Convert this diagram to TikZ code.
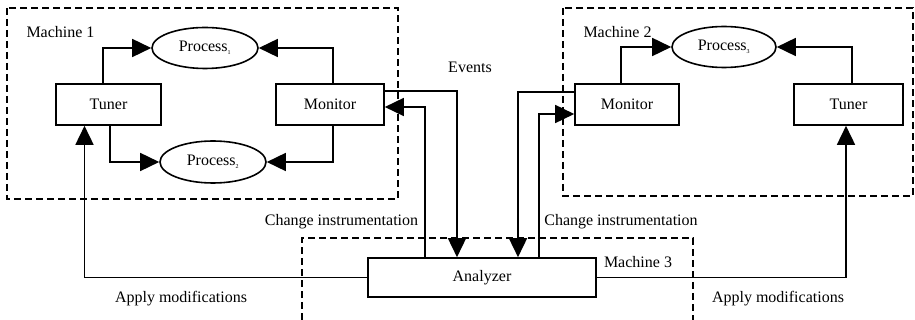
\documentclass[tikz,border=0pt]{standalone}
\usepackage{fontspec}
\setmainfont{Liberation Serif}
\usetikzlibrary{arrows.meta,shapes.geometric}
\newcommand{\subs}[1]{\textsubscript{\fontsize{6}{6}\selectfont #1}}
\begin{document}
\begin{tikzpicture}[x=1pt,y=-1pt,
  font=\fontsize{16}{19}\selectfont,
  box/.style={draw,line width=1.6pt,rectangle,inner sep=0pt,minimum height=41pt},
  proc/.style={draw,line width=1.6pt,ellipse,inner sep=0pt,minimum width=106pt,minimum height=41pt},
  mach/.style={draw,line width=1.6pt,dash pattern=on 7pt off 4pt},
  arr/.style={draw,line width=1.6pt,-{Triangle[length=19pt,width=18pt]}},
  lbl/.style={inner sep=0pt}]
\useasboundingbox (0,0) rectangle (915,320);
% machine frames
\draw[mach] (7,8) rectangle (398,199);
\draw[mach] (563,8) rectangle (913,196);
\draw[mach] (302,320) -- (302,238) -- (693,238) -- (693,320);
% nodes
\node[box,minimum width=105pt] (T1) at (108.5,104.5) {Tuner};
\node[box,minimum width=108pt] (M1) at (330,104.5) {Monitor};
\node[proc] (P1) at (205,48) {Process\subs{1}};
\node[proc,minimum height=42pt] (P2) at (213,162) {Process\subs{2}};
\node[box,minimum width=104pt] (M2) at (627,104.5) {Monitor};
\node[box,minimum width=109pt] (T2) at (848.5,104.5) {Tuner};
\node[proc,minimum width=104pt] (P3) at (724,47) {Process\subs{3}};
\node[box,minimum width=228pt,minimum height=39pt] (A) at (482,277.5) {Analyzer};
% labels
\node[lbl] (L1) at (60.5,32) {Machine 1};
\node[lbl] (L2) at (617.5,32) {Machine 2};
\node[lbl] (L3) at (638,262) {Machine 3};
\node[lbl] (EV) at (470,67) {Events};
\node[lbl] (CI1) at (341.5,222) {Change instrumentation};
\node[lbl] (CI2) at (621,222) {Change instrumentation};
\node[lbl] (AM1) at (181,299) {Apply modifications};
\node[lbl] (AM2) at (778,299) {Apply modifications};
% machine 1 connectors
\draw[arr] ([xshift=-5.5pt]T1.north) |- (P1.west);
\draw[arr] ([xshift=3pt]M1.north) |- (P1.east);
\draw[arr] ([xshift=1.5pt]T1.south) |- (P2.west);
\draw[arr] ([xshift=3pt]M1.south) |- (P2.east);
% machine 2 connectors
\draw[arr] ([xshift=-6pt]M2.north) |- (P3.west);
\draw[arr] ([xshift=3.5pt]T2.north) |- (P3.east);
% events and instrumentation
\draw[arr] ([yshift=13.5pt]M1.east) -| ([xshift=-25pt]A.north);
\draw[arr] ([xshift=-57pt]A.north) |- ([yshift=-2.5pt]M1.east);
\draw[arr] ([yshift=12.5pt]M2.west) -| ([xshift=36pt]A.north);
\draw[arr] ([xshift=57pt]A.north) |- ([yshift=-9.5pt]M2.west);
% apply modifications
\draw[arr] (A.west) -| ([xshift=-24pt]T1.south);
\draw[arr] (A.east) -| ([xshift=-2.5pt]T2.south);
\end{tikzpicture}
\end{document}
